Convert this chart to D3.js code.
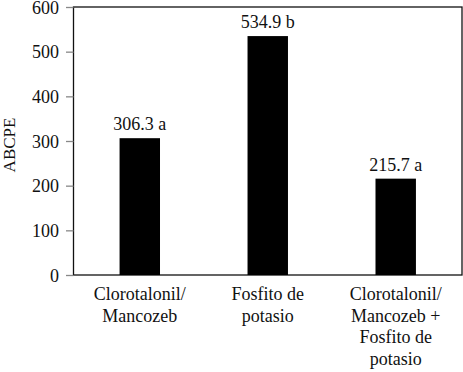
<!DOCTYPE html>
<html>
<head>
<meta charset="utf-8">
<script src="https://cdn.jsdelivr.net/npm/d3@7"></script>
</head>
<body style="margin:0;background:#fff">
<svg id="fig" width="463" height="372"></svg>
<script>
const categories = [
  ["Clorotalonil/", "Mancozeb"],
  ["Fosfito de", "potasio"],
  ["Clorotalonil/", "Mancozeb +", "Fosfito de", "potasio"]
];
const values = [306.3, 534.9, 215.7];
const letters = ["a", "b", "a"];
const yTicks = [0, 100, 200, 300, 400, 500, 600];

const margin = { top: 7, right: 1, bottom: 97, left: 73.5 };
const width = 463;
const height = 372;
const font = "Liberation Serif";

const svg = d3.select("#fig");

const x = d3.scaleBand()
  .domain(d3.range(values.length))
  .range([margin.left, width - margin.right])
  .paddingInner(0.684)
  .paddingOuter(0.36);

const y = d3.scaleLinear()
  .domain([0, 600])
  .range([height - margin.bottom, margin.top]);

// frame
svg.append("rect")
  .attr("x", margin.left)
  .attr("y", margin.top)
  .attr("width", width - margin.right - margin.left)
  .attr("height", y(0) - margin.top)
  .attr("fill", "none")
  .attr("stroke", "#111")
  .attr("stroke-width", 1.3);

// y axis
const yAxis = svg.append("g")
  .attr("transform", `translate(${margin.left},0)`)
  .call(d3.axisLeft(y).tickValues(yTicks).tickSize(7.5).tickPadding(7));
yAxis.select(".domain").remove();
yAxis.selectAll("line").attr("stroke", "#888").attr("stroke-width", 1.3);
yAxis.selectAll("text")
  .attr("font-family", font)
  .attr("font-size", 18)
  .attr("fill", "#111")
  .attr("dy", "0.34em");

svg.append("text")
  .attr("transform", "translate(15,145) rotate(-90)")
  .attr("text-anchor", "middle")
  .attr("font-family", font)
  .attr("font-size", 17)
  .attr("fill", "#111")
  .text("ABCPE");

// bars
svg.selectAll("rect.b")
  .data(values)
  .enter().append("rect")
  .attr("class", "b")
  .attr("x", (d, i) => x(i))
  .attr("y", d => y(d))
  .attr("width", x.bandwidth())
  .attr("height", d => y(0) - y(d))
  .attr("fill", "#000");

// value labels
svg.selectAll("text.v")
  .data(values)
  .enter().append("text")
  .attr("class", "v")
  .attr("x", (d, i) => x(i) + x.bandwidth() / 2)
  .attr("y", d => y(d) - 8)
  .attr("text-anchor", "middle")
  .attr("font-family", font)
  .attr("font-size", 18)
  .attr("fill", "#111")
  .text((d, i) => `${d.toFixed(1)} ${letters[i]}`);

// category labels
const cat = svg.selectAll("text.c")
  .data(categories)
  .enter().append("text")
  .attr("class", "c")
  .attr("text-anchor", "middle")
  .attr("font-family", font)
  .attr("font-size", 18)
  .attr("fill", "#111");

cat.selectAll("tspan")
  .data((d, i) => d.map(line => ({ line, i })))
  .enter().append("tspan")
  .attr("x", d => x(d.i) + x.bandwidth() / 2)
  .attr("y", (d, j) => y(0) + 25 + j * 21.7)
  .text(d => d.line);
</script>
</body>
</html>
